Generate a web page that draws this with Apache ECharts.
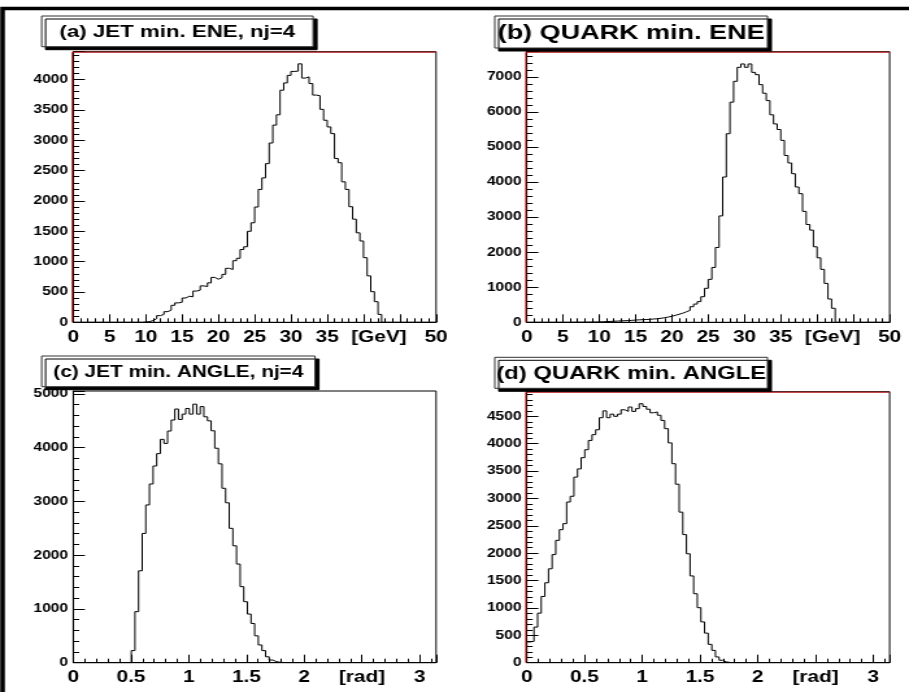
<!DOCTYPE html>
<html>
<head>
<meta charset="UTF-8">
<title>min ENE / min ANGLE</title>
<script src="https://cdn.jsdelivr.net/npm/echarts@6/dist/echarts.min.js"></script>
<style>
  body { margin: 0; background: #fff; overflow: hidden; }
  /* the picture is stretched sideways, so draw narrow and stretch */
  #main { width: 700px; height: 692px; transform: scaleX(1.29857); transform-origin: 0 0; }
</style>
</head>
<body>
<div id="main"></div>
<script>
// ---- data (100 bins per histogram) ----
var nBins = 100;
var eneMax = 50;        // GeV
var angMax = Math.PI;   // rad

var titles = ['(a) JET min. ENE, nj=4', '(b) QUARK min. ENE', '(c) JET min. ANGLE, nj=4', '(d) QUARK min. ANGLE'];

var jetEne = [
  0,0,0,0,0,0,0,0,0,0, 0,0,0,0,0,0,0,0,0,5,
  10,30,60,110,130,175,200,280,320,330,
  400,430,420,515,530,600,590,650,740,710,
  735,790,890,870,1015,1055,1200,1245,1500,1640,
  1900,2190,2380,2615,2955,3250,3420,3825,3945,4070,
  4135,4140,4260,4025,4045,3935,3745,3735,3510,3330,
  3220,3110,2700,2630,2315,2190,1905,1700,1475,1340,
  1065,765,505,340,130,0,0,0,0,0,
  0,0,0,0,0,0,0,0,0,0
];
var quarkEne = [
  0,0,0,0,0,0,0,0,0,0,
  0,0,2,2,3,4,5,6,8,10,
  15,20,25,30,35,40,45,50,55,65,
  70,75,80,85,95,100,115,130,150,170,
  200,230,260,300,340,445,520,590,730,970,
  1225,1565,2135,3035,4145,5380,6280,6875,7275,7370,
  7275,7370,7130,7065,6780,6535,6325,5920,5660,5500,
  5190,4760,4545,4240,3860,3670,3165,2790,2630,2155,
  1840,1510,1110,665,400,0,0,0,0,0,
  0,0,0,0,0,0,0,0,0,0
];
var jetAng = [
  0,0,0,0,0,0,0,0,0,0, 0,0,0,0,0,0,
  225,950,1710,2405,2935,3325,3660,3890,4155,4080,
  4310,4515,4720,4525,4625,4730,4625,4810,4625,4765,
  4575,4500,4315,3990,3700,3245,2975,2500,2175,1835,
  1415,1135,905,730,500,330,225,110,50,20,
  8,4,2,0,0,0,0,0,0,0,
  0,0,0,0,0,0,0,0,0,0, 0,0,0,0,0,0,0,0,0,0,
  0,0,0,0,0,0,0,0,0,0, 0,0,0,0
];
var quarkAng = [
  380,390,650,905,1210,1460,1715,1975,2235,2430,
  2540,2935,3040,3390,3540,3745,3890,4060,4165,4255,
  4475,4600,4475,4540,4500,4540,4620,4590,4670,4590,
  4640,4730,4680,4630,4565,4580,4520,4425,4275,4015,
  3635,3260,2750,2340,1990,1585,1260,1005,745,540,
  335,225,105,45,15,5,0,0,0,0,
  0,0,0,0,0,0,0,0,0,0, 0,0,0,0,0,0,0,0,0,0,
  0,0,0,0,0,0,0,0,0,0, 0,0,0,0,0,0,0,0,0,0
];

var yMax = [4460, 7720, 5055, 4950];
var yStep = [500, 1000, 1000, 500];

// ---- layout (unstretched px) ----
var SX = 1.29857;
var grids = [
  { left: 56.4,  top: 51.7,  width: 279.4, height: 270.6 },
  { left: 405.6, top: 51.7,  width: 279.5, height: 270.6 },
  { left: 56.4,  top: 391,   width: 279.4, height: 271.7 },
  { left: 405.6, top: 391.7, width: 279.5, height: 271 }
];
// tw = width the label text is fitted to (as in the picture, stretched px)
var boxes = [
  { x: 32.1, y: 16,    w: 209,   h: 30.7, tw: 236 },
  { x: 381,  y: 16,    w: 210,   h: 32,   tw: 267 },
  { x: 32.1, y: 356,   w: 210.5, h: 30.7, tw: 250 },
  { x: 381,  y: 357.3, w: 210,   h: 31,   tw: 270 }
];
var redFrame = [true, true, false, true];

var FONT = '"Liberation Sans", Arial, Helvetica, sans-serif';

// font size so that text fills the label box like a ROOT pave label
var mctx = document.createElement('canvas').getContext('2d');
function fitSize(text, width) {
  mctx.font = 'bold 100px ' + FONT;
  return 100 * width / mctx.measureText(text).width;
}

function toSteps(counts, hi) {
  var w = hi / counts.length;
  var pts = [[0, 0]];
  for (var i = 0; i < counts.length; i++) pts.push([i * w, counts[i]]);
  pts.push([hi, counts[counts.length - 1]]);
  return pts;
}

var chart = echarts.init(document.getElementById('main'));

var hists = [jetEne, quarkEne, jetAng, quarkAng];
var xAxes = [], yAxes = [], series = [], graphics = [];

for (var k = 0; k < 4; k++) {
  var isEne = k < 2;
  xAxes.push({
    type: 'value', gridIndex: k, min: 0, max: isEne ? eneMax : angMax,
    interval: isEne ? 5 : 0.5,
    axisLine: { lineStyle: { color: '#000', width: 1 } },
    axisTick: { inside: true, length: 8, lineStyle: { color: '#000' } },
    minorTick: { show: true, splitNumber: 5, length: 4, lineStyle: { color: '#000' } },
    splitLine: { show: false },
    axisLabel: {
      color: '#000', fontFamily: FONT, fontWeight: 'bold', fontSize: 16, margin: 7,
      showMaxLabel: isEne, showMinLabel: true,
      formatter: isEne
        ? function (v) { return v === 40 ? '' : v === 45 ? '{u|[GeV]}' : String(v); }
        : function (v) { return Math.abs(v - 2.5) < 1e-9 ? '{u|[rad]}' : String(v); },
      rich: { u: { fontFamily: FONT, fontWeight: 'bold', fontSize: 16, color: '#000',
                   padding: isEne ? [0, 32, 0, 0] : [0, 0, 0, 0] } }
    }
  });
  yAxes.push({
    type: 'value', gridIndex: k, min: 0, max: yMax[k], interval: yStep[k],
    axisLine: { show: true, lineStyle: { color: '#000', width: 1 } },
    axisTick: { show: true, inside: true, length: 9, lineStyle: { color: '#000' } },
    minorTick: { show: true, splitNumber: 5, length: 4.6, lineStyle: { color: '#000' } },
    splitLine: { show: false },
    axisLabel: { color: '#000', fontFamily: FONT, fontWeight: 'bold', fontSize: 12, margin: 4,
                 showMaxLabel: false, formatter: function (v) { return String(v); } }
  });
  series.push({
    type: 'line', xAxisIndex: k, yAxisIndex: k, step: 'end',
    showSymbol: false, animation: false, clip: true,
    lineStyle: { color: '#000', width: 1 },
    data: toSteps(hists[k], isEne ? eneMax : angMax)
  });

  var g = grids[k], b = boxes[k];
  if (redFrame[k]) {
    // frame edges drawn in red under the axes (top and left)
    graphics.push({ type: 'polyline', z: 10,
      shape: { points: [[g.left - 0.7, g.top + g.height], [g.left - 0.7, g.top + 0.5], [g.left + g.width, g.top + 0.5]] },
      style: { stroke: '#c01010', lineWidth: 1, fill: null } });
  }
  graphics.push({ type: 'rect', z: 20,
    shape: { x: b.x, y: b.y, width: b.w, height: b.h },
    style: { fill: '#fff', stroke: '#333', lineWidth: 1,
             shadowColor: '#000', shadowOffsetX: 3, shadowOffsetY: 3, shadowBlur: 0 } });
  graphics.push({ type: 'text', z: 21,
    x: b.x + b.w / 2, y: b.y + b.h / 2 + 1,
    style: { text: titles[k], align: 'center', verticalAlign: 'middle',
             fontFamily: FONT, fontWeight: 'bold', fontSize: fitSize(titles[k], b.tw / SX), fill: '#000' } });
}

// outer frame of the page
graphics.push({ type: 'polyline', z: 30,
  shape: { points: [[2, 692], [2, 8.5], [700, 8.5]] },
  style: { stroke: '#000', lineWidth: 3.5, fill: null } });

chart.setOption({
  animation: false,
  backgroundColor: '#fff',
  grid: grids.map(function (g) {
    return { left: g.left, top: g.top, width: g.width, height: g.height,
             show: true, borderColor: '#000', borderWidth: 1, backgroundColor: 'transparent' };
  }),
  xAxis: xAxes,
  yAxis: yAxes,
  series: series,
  graphic: graphics
});
</script>
</body>
</html>
